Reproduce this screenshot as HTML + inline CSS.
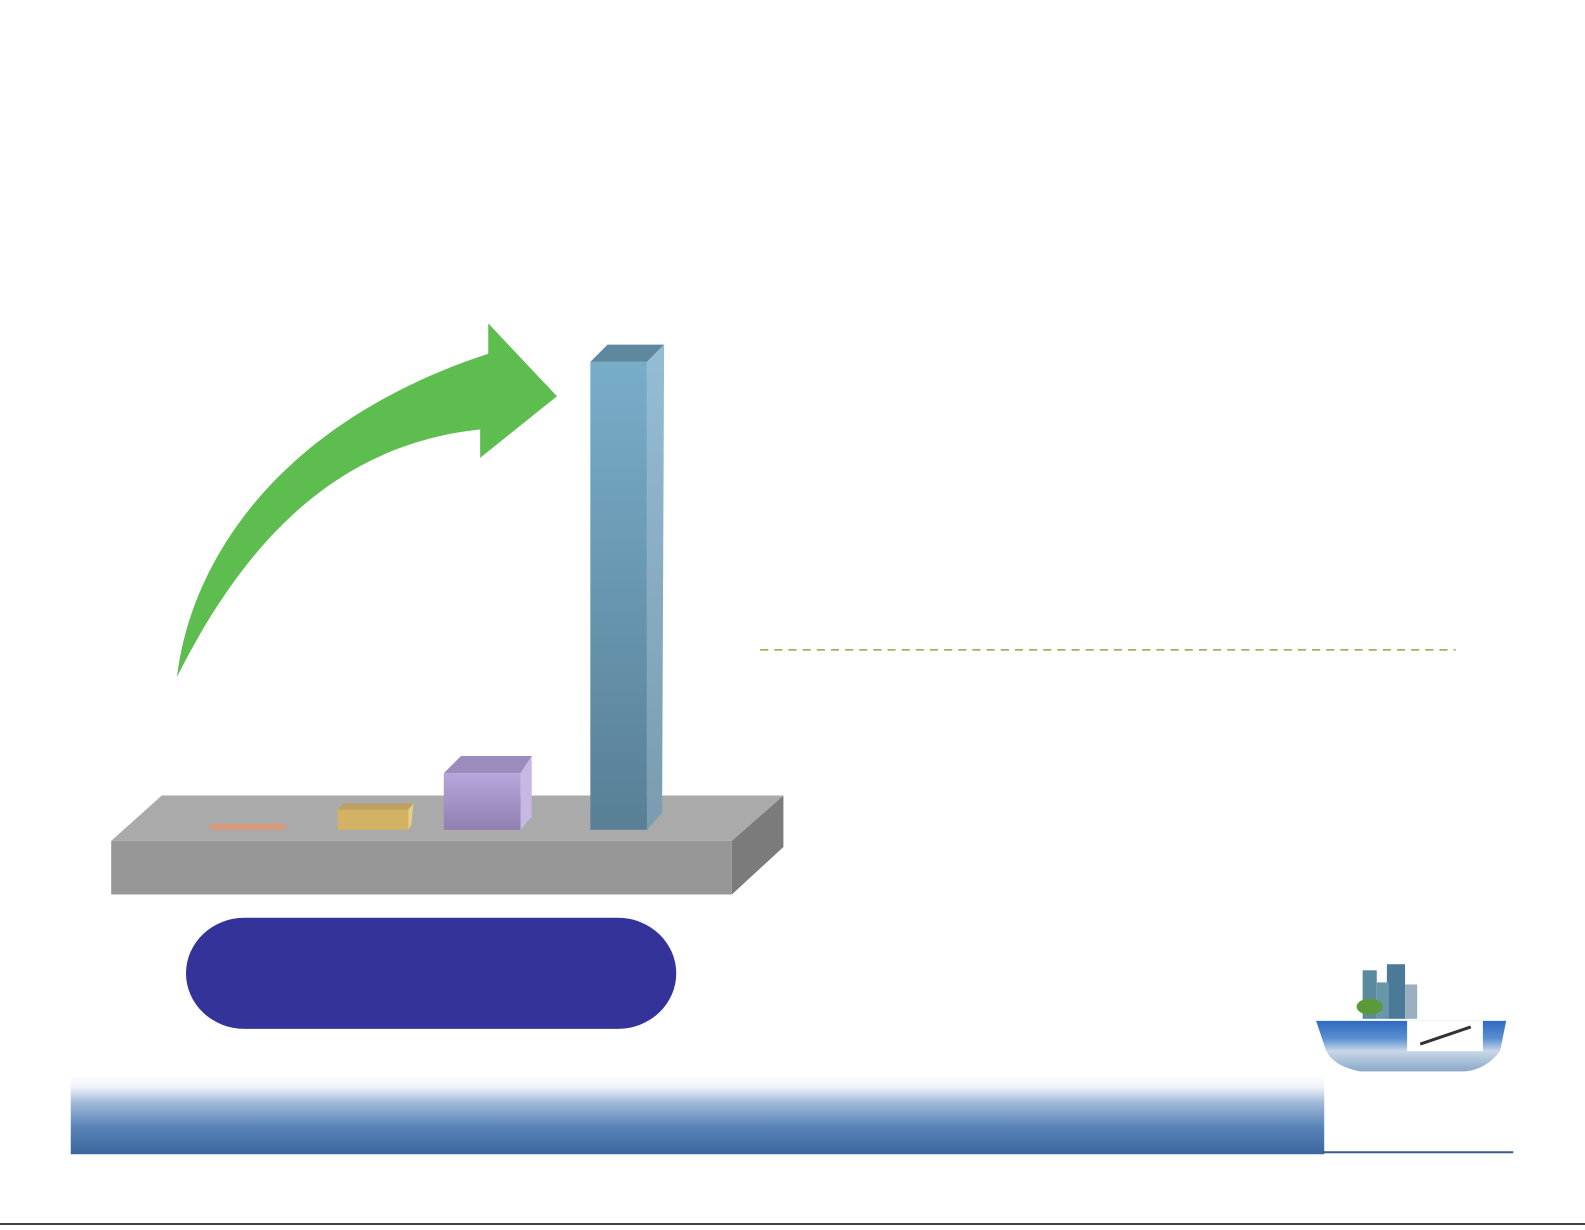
<!DOCTYPE html>
<html><head><meta charset="utf-8"><style>html,body{margin:0;padding:0;background:#fff;overflow:hidden}</style></head>
<body>
<svg width="1585" height="1225" viewBox="0 0 1568 1212" preserveAspectRatio="none" xmlns="http://www.w3.org/2000/svg">
<defs>
<linearGradient id="band" x1="0" y1="0" x2="0" y2="1">
<stop offset="0" stop-color="#ffffff"/><stop offset="0.15" stop-color="#eef2f9"/><stop offset="0.35" stop-color="#9fb8d8"/><stop offset="0.65" stop-color="#5a84b8"/><stop offset="1" stop-color="#3a659e"/></linearGradient>
<linearGradient id="blue" x1="0" y1="0" x2="0" y2="1"><stop offset="0" stop-color="#78adc9"/><stop offset="1" stop-color="#587f96"/></linearGradient>
<linearGradient id="blueS" x1="0" y1="0" x2="0" y2="1"><stop offset="0" stop-color="#94bdd4"/><stop offset="1" stop-color="#7a9bb0"/></linearGradient>
<linearGradient id="pur" x1="0" y1="0" x2="0" y2="1"><stop offset="0" stop-color="#b7a5dc"/><stop offset="1" stop-color="#9080b0"/></linearGradient>
<linearGradient id="bowl" x1="0" y1="0" x2="0" y2="1"><stop offset="0" stop-color="#2e6ac0"/><stop offset="0.35" stop-color="#5a90d0"/><stop offset="0.6" stop-color="#c8d8e8"/><stop offset="1" stop-color="#8aa8c8"/></linearGradient>
</defs>
<!-- arrow -->
<path d="M175,670 C188,560 270,420 483,350 L483,320 L551,392 L475,453 L475,425 C330,440 240,540 175,670 Z" fill="#5dbd4f"/>
<!-- platform -->
<polygon points="110,832 160,787 775,787 724,832" fill="#aaaaaa"/>
<rect x="110" y="832" width="614" height="53" fill="#979797"/>
<polygon points="724,832 775,787 775,838 724,885" fill="#7b7b7b"/>
<!-- bars -->
<rect x="208" y="815" width="74" height="6" fill="#d99a7c"/>
<polygon points="334,801 340,795 409,795 404,801" fill="#c0a060"/>
<rect x="334" y="801" width="70" height="20" fill="#d4b265"/>
<polygon points="404,801 409,795 407,816 404,821" fill="#e8cf80"/>
<polygon points="439,765 456,748 526,748 515,765" fill="#9a8cbd"/>
<rect x="439" y="765" width="76" height="56" fill="url(#pur)"/>
<polygon points="515,765 526,748 526,808 515,821" fill="#c5b8e2"/>
<polygon points="584,358 601,341 657,341 640,358" fill="#5e889e"/>
<rect x="584" y="358" width="56" height="463" fill="url(#blue)"/>
<polygon points="640,358 657,341 655,804 640,821" fill="url(#blueS)"/>
<!-- stadium -->
<rect x="184" y="908" width="485" height="110" rx="58" ry="55" fill="#333399"/>
<!-- dashed line -->
<line x1="752" y1="643" x2="1440" y2="643" stroke="#a89a4a" stroke-width="1.5" stroke-dasharray="8,6"/>
<!-- band -->
<rect x="70" y="1064" width="1240" height="78" fill="url(#band)"/>
<!-- logo -->
<rect x="1316" y="1058" width="182" height="82" fill="#fff"/>
<line x1="1308" y1="1140" x2="1497" y2="1140" stroke="#3a5a8a" stroke-width="2"/>
<path d="M1302,1010 L1490,1010 L1484,1040 Q1470,1058 1450,1060 L1345,1060 Q1320,1055 1312,1040 Z" fill="url(#bowl)"/>
<rect x="1348" y="960" width="14" height="48" fill="#5a8aa0"/>
<rect x="1372" y="954" width="18" height="54" fill="#4a7a98"/>
<rect x="1362" y="972" width="12" height="36" fill="#6a96aa"/>
<rect x="1390" y="974" width="12" height="34" fill="#9ab0c0"/>
<ellipse cx="1355" cy="996" rx="13" ry="8" fill="#5a9a3a"/>
<rect x="1392" y="1010" width="75" height="30" fill="#fff"/>
<line x1="1405" y1="1033" x2="1455" y2="1016" stroke="#333" stroke-width="3"/>
<!-- bottom line -->
<line x1="0" y1="1211" x2="1568" y2="1211" stroke="#000" stroke-width="1.5"/>
</svg>
</body></html>
